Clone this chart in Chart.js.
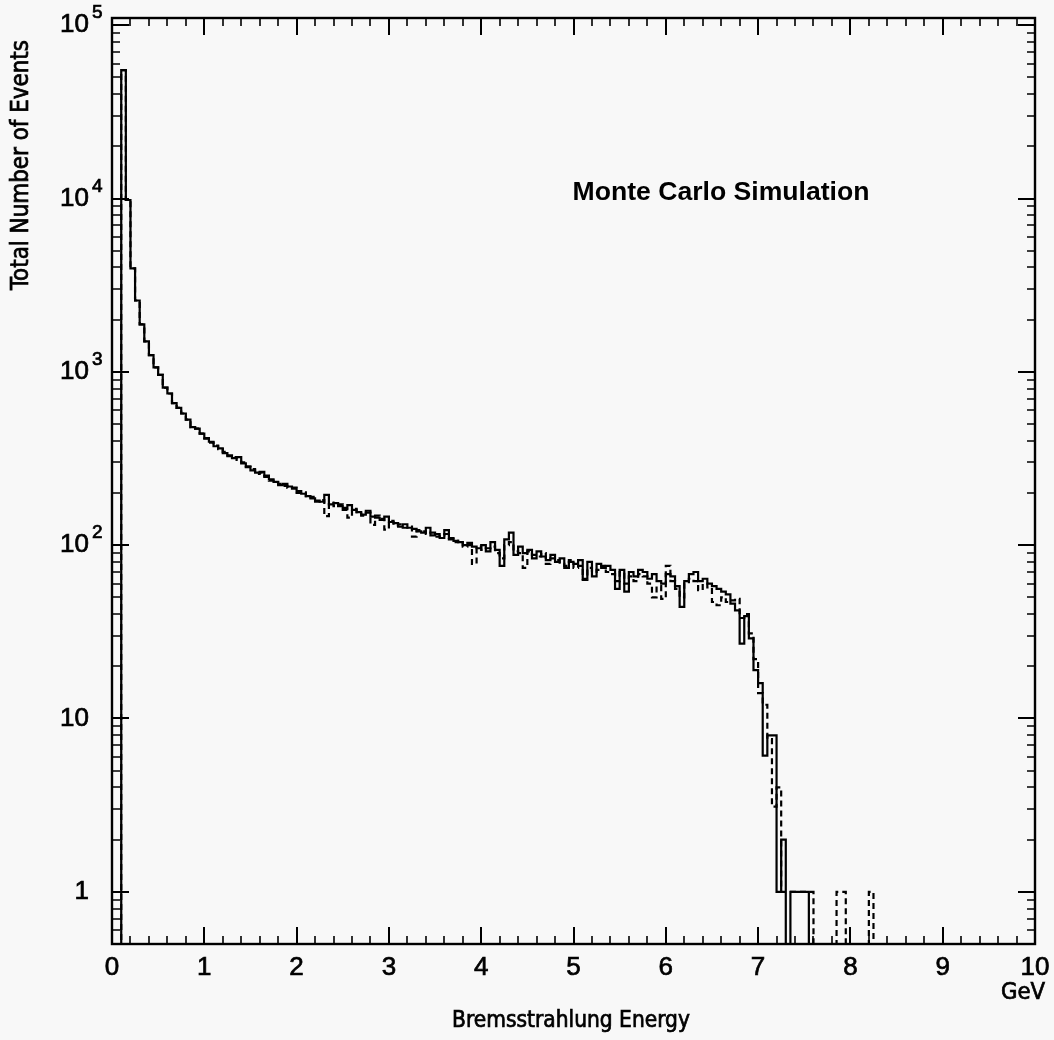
<!DOCTYPE html>
<html>
<head>
<meta charset="utf-8">
<title>Bremsstrahlung Energy</title>
<script src="https://cdn.jsdelivr.net/npm/chart.js@4.4.1/dist/chart.umd.min.js"></script>
<style>
  html, body { margin: 0; padding: 0; background: #f8f8f8; }
  canvas { display: block; }
</style>
</head>
<body>
<canvas id="hist" width="1054" height="1040"></canvas>
<script>
// Histogram binning (GeV)
const binWidth = 0.05;
const energyMin = 0;
const energyMax = 10;

// Events per 0.05 GeV bin, solid histogram (200 bins, 0 - 10 GeV)
const solidCounts = [
  0, 0, 55000, 9800, 3950, 2580, 1880, 1500, 1250, 1060, 960, 810, 750, 660, 620, 575, 530, 480, 470, 440,
  415, 395, 372, 362, 340, 330, 318, 322, 296, 285, 270, 262, 265, 248, 240, 232, 222, 226, 218, 212,
  205, 198, 192, 186, 181, 178, 195, 172, 175, 168, 164, 170, 160, 155, 150, 158, 146, 144, 140, 146,
  136, 134, 128, 132, 126, 124, 120, 118, 126, 114, 116, 110, 122, 108, 106, 104, 100, 103, 98, 96,
  100, 92, 104, 94, 76, 108, 118, 88, 98, 90, 94, 84, 92, 86, 82, 88, 80, 84, 74, 80,
  78, 82, 64, 80, 66, 78, 74, 76, 72, 56, 72, 54, 70, 66, 72, 70, 64, 68, 62, 60,
  68, 66, 58, 44, 62, 68, 70, 62, 64, 60, 58, 56, 54, 52, 46, 42, 27, 39, 29, 19,
  16, 6.1, 8, 8, 1, 2, 0, 1, 1, 1, 1, 0, 0, 0, 0, 0, 0, 0, 0, 0,
  0, 0, 0, 0, 0, 0, 0, 0, 0, 0, 0, 0, 0, 0, 0, 0, 0, 0, 0, 0,
  0, 0, 0, 0, 0, 0, 0, 0, 0, 0, 0, 0, 0, 0, 0, 0, 0, 0, 0, 0
];

// Events per 0.05 GeV bin, dashed histogram
const dashedCounts = [
  0, 0, 55000, 9800, 3950, 2580, 1880, 1500, 1250, 1060, 960, 810, 750, 660, 620, 575, 530, 480, 470, 440,
  412, 390, 375, 358, 345, 326, 322, 310, 300, 282, 275, 258, 262, 252, 236, 230, 226, 220, 214, 215,
  200, 202, 188, 190, 178, 182, 147, 176, 168, 172, 160, 144, 162, 152, 148, 154, 131, 148, 142, 123,
  138, 130, 132, 126, 128, 112, 122, 120, 116, 118, 112, 114, 116, 110, 104, 106, 98, 100, 78, 98,
  94, 96, 98, 90, 84, 100, 104, 92, 90, 74, 92, 88, 86, 90, 78, 84, 82, 78, 76, 82,
  74, 76, 63, 74, 70, 72, 76, 70, 68, 62, 70, 60, 66, 62, 68, 66, 60, 50, 58, 49,
  76, 62, 56, 50, 60, 64, 62, 55, 60, 57, 47, 45, 50, 47, 48, 49, 38, 40, 31, 22,
  14, 12, 7.6, 3.1, 4, 1, 1, 1, 1, 1, 1, 1, 0, 0, 0, 0, 0, 1, 1, 0,
  0, 0, 0, 0, 1, 0, 0, 0, 0, 0, 0, 0, 0, 0, 0, 0, 0, 0, 0, 0,
  0, 0, 0, 0, 0, 0, 0, 0, 0, 0, 0, 0, 0, 0, 0, 0, 0, 0, 0, 0
];

// Axis ticks and labels
const xMajorTicks = [0, 1, 2, 3, 4, 5, 6, 7, 8, 9, 10];
const xTickLabels = ['0', '1', '2', '3', '4', '5', '6', '7', '8', '9', '10'];
const xMinorPerMajor = 5;
const yMin = 0.5;
const yMax = 1.1e5;
const yDecades = [1, 10, 100, 1000, 10000, 100000];
const yTickBase = ['1', '10', '10', '10', '10', '10'];
const yTickExp  = ['',  '',   '2',  '3',  '4',  '5'];

const titleText = 'Monte Carlo Simulation';
const xTitle = 'Bremsstrahlung Energy';
const xUnit = 'GeV';
const yTitle = 'Total Number of Events';

const INK = '#000000';
const PAPER = '#f8f8f8';
const NUM_FONT = '"Liberation Sans", Arial, sans-serif';
const NARROW_FONT = '"Liberation Sans Narrow", "DejaVu Sans Condensed", "Roboto", sans-serif';

// Empty bins sit below the log axis floor, so their outline runs down to the frame
const emptyBinLevel = yMin / 100;

// One point per bin lower edge plus a closing point at the upper edge of the last bin
function histPoints(counts) {
  const level = v => (v > 0 ? v : emptyBinLevel);
  const pts = counts.map((v, i) => ({ x: energyMin + i * binWidth, y: level(v) }));
  pts.push({ x: energyMin + counts.length * binWidth, y: level(counts[counts.length - 1]) });
  return pts;
}

// Font size that makes a string span a given width
function fittedSize(ctx, text, weight, family, width) {
  ctx.font = `${weight} 100px ${family}`;
  return 100 * width / ctx.measureText(text).width;
}

// Text with a light outline, a little heavier than the regular face
function heavyText(ctx, text, x, y) {
  ctx.fillText(text, x, y);
  ctx.lineWidth = 0.7;
  ctx.strokeText(text, x, y);
}

const framePlugin = {
  id: 'frameAndAxes',
  beforeDraw(chart) {
    const { ctx, width, height } = chart;
    ctx.save();
    ctx.fillStyle = PAPER;
    ctx.fillRect(0, 0, width, height);
    ctx.restore();
  },
  afterDatasetsDraw(chart) {
    const { ctx, chartArea: a, scales: { x, y } } = chart;
    ctx.save();
    ctx.strokeStyle = INK;
    ctx.fillStyle = INK;
    ctx.lineCap = 'butt';

    // frame
    ctx.lineWidth = 2.4;
    ctx.strokeRect(a.left, a.top, a.right - a.left, a.bottom - a.top);

    const majorLen = 17, minorLen = 8;

    // x ticks, bottom and top, pointing inward
    const xStep = (xMajorTicks[1] - xMajorTicks[0]) / xMinorPerMajor;
    for (let i = 0; i < xMajorTicks.length; i++) {
      for (let k = 0; k < xMinorPerMajor; k++) {
        const v = xMajorTicks[i] + k * xStep;
        if (v > energyMax + 1e-9) continue;
        const px = Math.round(x.getPixelForValue(v));
        const len = k === 0 ? majorLen : minorLen;
        ctx.lineWidth = k === 0 ? 2 : 1.6;
        ctx.beginPath();
        ctx.moveTo(px, a.bottom); ctx.lineTo(px, a.bottom - len);
        ctx.moveTo(px, a.top); ctx.lineTo(px, a.top + len);
        ctx.stroke();
      }
    }

    // y ticks (log), left and right, pointing inward
    const yTicks = [];
    for (let d = 0.1; d <= yMax; d *= 10) {
      for (let m = 1; m <= 9; m++) {
        const v = m * d;
        if (v >= yMin * 0.999 && v <= yMax) yTicks.push({ v, major: m === 1 });
      }
    }
    yTicks.forEach(t => {
      const py = Math.round(y.getPixelForValue(t.v));
      const len = t.major ? majorLen : minorLen;
      ctx.lineWidth = t.major ? 2 : 1.6;
      ctx.beginPath();
      ctx.moveTo(a.left, py); ctx.lineTo(a.left + len, py);
      ctx.moveTo(a.right, py); ctx.lineTo(a.right - len, py);
      ctx.stroke();
    });

    // x tick labels
    ctx.font = `26px ${NUM_FONT}`;
    ctx.textAlign = 'center';
    ctx.textBaseline = 'middle';
    xMajorTicks.forEach((v, i) => {
      heavyText(ctx, xTickLabels[i], x.getPixelForValue(v), a.bottom + 24);
    });

    // y tick labels with exponents
    yDecades.forEach((v, i) => {
      const py = y.getPixelForValue(v);
      ctx.font = `26px ${NUM_FONT}`;
      ctx.textAlign = 'right';
      ctx.textBaseline = 'middle';
      heavyText(ctx, yTickBase[i], 89, py);
      if (yTickExp[i]) {
        ctx.font = `19px ${NUM_FONT}`;
        ctx.textAlign = 'left';
        heavyText(ctx, yTickExp[i], 92, py - 12);
      }
    });

    // titles
    ctx.textAlign = 'center';
    ctx.textBaseline = 'middle';
    let s = fittedSize(ctx, xTitle, 'normal', NARROW_FONT, 238);
    ctx.font = `normal ${s}px ${NARROW_FONT}`;
    heavyText(ctx, xTitle, 571, 1021);
    ctx.font = `normal ${s * 1.05}px ${NARROW_FONT}`;
    heavyText(ctx, xUnit, 1023, 993);

    s = fittedSize(ctx, titleText, 'bold', NUM_FONT, 297);
    ctx.font = `bold ${s}px ${NUM_FONT}`;
    ctx.fillText(titleText, 721, 193);

    ctx.save();
    ctx.translate(22, 165);
    ctx.rotate(-Math.PI / 2);
    s = fittedSize(ctx, yTitle, 'normal', NARROW_FONT, 250);
    ctx.font = `normal ${s}px ${NARROW_FONT}`;
    heavyText(ctx, yTitle, 0, 0);
    ctx.restore();

    ctx.restore();
  }
};

new Chart(document.getElementById('hist').getContext('2d'), {
  type: 'line',
  data: {
    datasets: [
      {
        label: 'solid',
        data: histPoints(solidCounts),
        stepped: 'before',
        borderColor: INK,
        borderWidth: 2.2,
        borderJoinStyle: 'miter',
        pointRadius: 0,
        fill: false,
        clip: 0,
        order: 0
      },
      {
        label: 'dashed',
        data: histPoints(dashedCounts),
        stepped: 'before',
        borderColor: INK,
        borderWidth: 2.2,
        borderDash: [6, 4],
        borderJoinStyle: 'miter',
        pointRadius: 0,
        fill: false,
        clip: 0,
        order: 1
      }
    ]
  },
  options: {
    responsive: false,
    animation: false,
    devicePixelRatio: 1,
    layout: { padding: { left: 112, top: 18, right: 19, bottom: 96 } },
    plugins: { legend: { display: false }, tooltip: { enabled: false } },
    scales: {
      x: { type: 'linear', min: energyMin, max: energyMax, display: false },
      y: { type: 'logarithmic', min: yMin, max: yMax, display: false }
    }
  },
  plugins: [framePlugin]
});
</script>
</body>
</html>
